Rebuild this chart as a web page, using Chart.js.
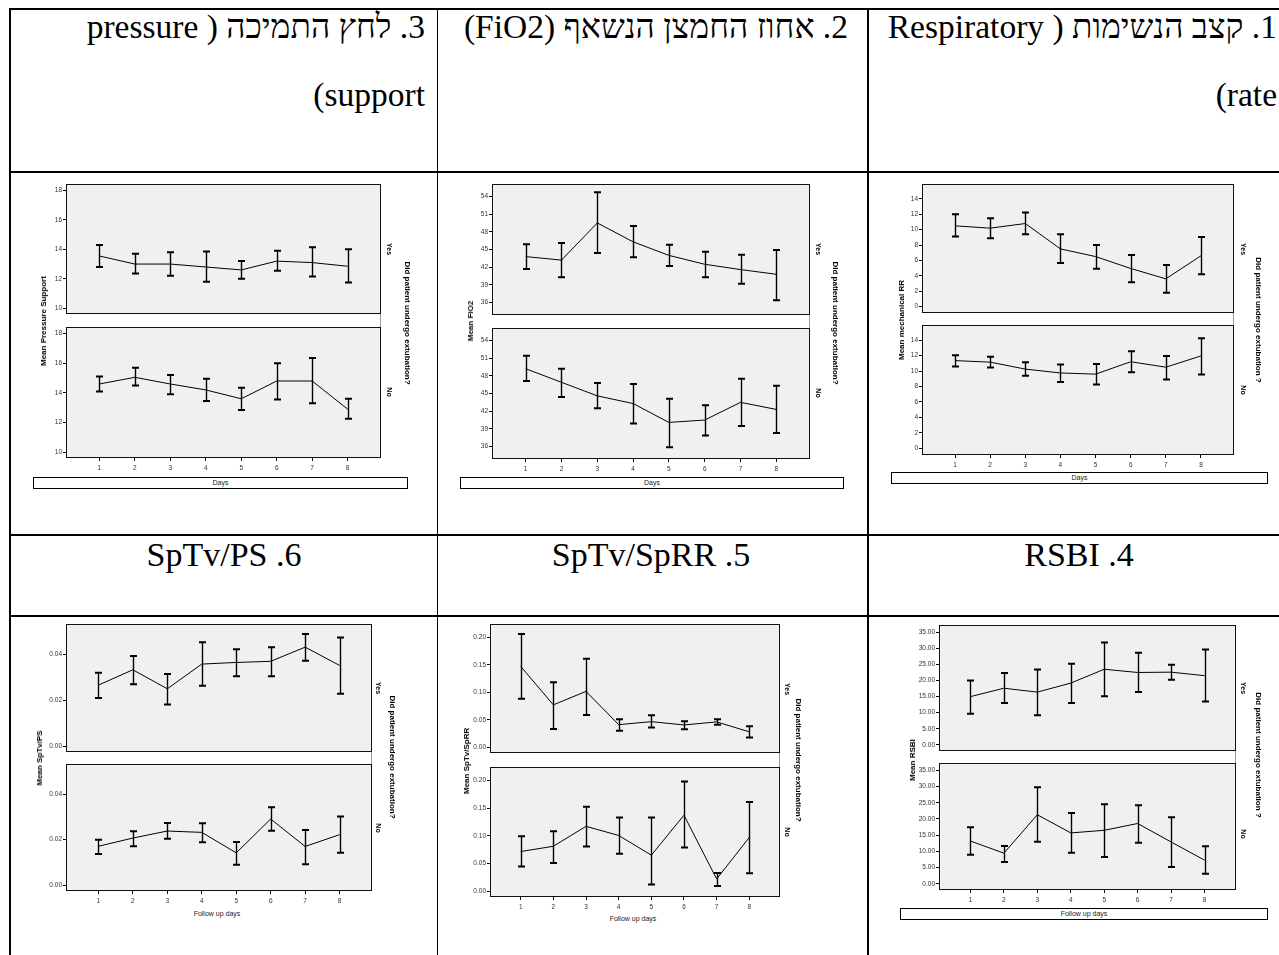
<!DOCTYPE html>
<html><head><meta charset="utf-8">
<script src="https://cdn.jsdelivr.net/npm/chart.js@4.4.0/dist/chart.umd.min.js"></script>
<style>
html,body{margin:0;padding:0;background:#fff;}
body{width:1279px;height:955px;overflow:hidden;position:relative;font-family:"Liberation Sans",Arial,sans-serif;}
.hl{position:absolute;background:#000;height:2px;}
.vl{position:absolute;background:#000;width:1.5px;}
.gl{position:absolute;background:#9a9a9a;width:1px;}
.hdr{position:absolute;font-family:"Liberation Serif","Times New Roman","DejaVu Serif",serif;color:#000;direction:rtl;white-space:nowrap;}
.panel{position:absolute;}
.lbl{position:absolute;white-space:nowrap;color:#000;}
.box{position:absolute;border:1px solid #000;background:#fff;box-sizing:border-box;text-align:center;font-size:7px;color:#222;}
</style>
</head><body>
<script>
// ---------- data ----------
const days = [1,2,3,4,5,6,7,8];
const dayLabels = ['1','2','3','4','5','6','7','8'];

// 3. Pressure support
const psTickLabels = ['10','12','14','16','18'];
const psYesMean = [13.55,13.0,13.0,12.8,12.6,13.2,13.1,12.85];
const psYesLow  = [12.8,12.35,12.2,11.8,12.0,12.55,12.15,11.75];
const psYesHigh = [14.3,13.7,13.8,13.85,13.2,13.9,14.15,14.0];
const psNoMean  = [14.6,15.05,14.6,14.2,13.6,14.8,14.8,12.9];
const psNoLow   = [14.1,14.5,13.9,13.45,12.85,13.55,13.3,12.25];
const psNoHigh  = [15.1,15.7,15.2,14.95,14.35,16.0,16.35,13.6];

// 2. FiO2
const fiTickLabels = ['36','39','42','45','48','51','54'];
const fiYesMean = [43.8,43.2,49.5,46.3,44.0,42.5,41.6,40.8];
const fiYesLow  = [41.7,40.3,44.4,43.7,42.2,40.3,39.2,36.4];
const fiYesHigh = [45.9,46.1,54.7,49.0,45.8,44.6,44.1,44.9];
const fiNoMean  = [49.2,46.9,44.6,43.3,40.1,40.5,43.5,42.3];
const fiNoLow   = [47.1,44.4,42.5,39.9,35.9,37.9,39.5,38.3];
const fiNoHigh  = [51.4,49.2,46.8,46.6,44.1,43.0,47.5,46.3];

// 1. Respiratory rate
const rrTickLabels = ['0','2','4','6','8','10','12','14'];
const rrYesMean = [10.5,10.2,10.8,7.5,6.5,4.95,3.6,6.6];
const rrYesLow  = [9.1,8.9,9.4,5.65,4.9,3.15,1.8,4.2];
const rrYesHigh = [12.0,11.5,12.25,9.4,8.0,6.7,5.4,9.05];
const rrNoMean  = [11.35,11.15,10.25,9.75,9.6,11.2,10.5,11.95];
const rrNoLow   = [10.6,10.45,9.4,8.6,8.25,9.85,8.9,9.55];
const rrNoHigh  = [12.05,11.85,11.15,10.85,10.9,12.55,11.95,14.25];

// 6. SpTv/PS
const tpTickLabels = ['0.00','0.02','0.04'];
const tpYesMean = [0.0266,0.0333,0.0250,0.0358,0.0365,0.0370,0.0432,0.0352];
const tpYesLow  = [0.0210,0.0270,0.0181,0.0263,0.0305,0.0305,0.0372,0.0228];
const tpYesHigh = [0.0320,0.0393,0.0315,0.0453,0.0423,0.0432,0.0489,0.0474];
const tpNoMean  = [0.0171,0.0207,0.0238,0.0232,0.0142,0.0291,0.0170,0.0222];
const tpNoLow   = [0.0137,0.0171,0.0204,0.0189,0.0089,0.0239,0.0092,0.0142];
const tpNoHigh  = [0.0200,0.0237,0.0273,0.0272,0.0190,0.0343,0.0243,0.0302];

// 5. SpTv/SpRR
const trTickLabels = ['0.00','0.05','0.10','0.15','0.20'];
const trYesMean = [0.147,0.077,0.1015,0.041,0.0465,0.0405,0.046,0.028];
const trYesLow  = [0.088,0.033,0.0585,0.030,0.036,0.0325,0.041,0.0175];
const trYesHigh = [0.206,0.118,0.161,0.051,0.058,0.047,0.051,0.038];
const trNoMean  = [0.0715,0.081,0.117,0.1005,0.065,0.137,0.022,0.097];
const trNoLow   = [0.0445,0.051,0.0805,0.0675,0.012,0.079,0.0095,0.0325];
const trNoHigh  = [0.099,0.108,0.1525,0.133,0.133,0.198,0.033,0.161];

// 4. RSBI
const rsTickLabels = ['0.00','5.00','10.00','15.00','20.00','25.00','30.00','35.00'];
const rsYesMean = [15.0,17.6,16.4,19.2,23.5,22.5,22.6,21.5];
const rsYesLow  = [9.7,13.0,9.2,13.0,15.1,16.4,20.2,13.5];
const rsYesHigh = [20.0,22.3,23.4,25.2,31.8,28.6,24.9,29.6];
const rsNoMean  = [13.2,9.45,21.3,15.7,16.5,18.6,12.9,7.3];
const rsNoLow   = [9.0,6.75,13.0,9.55,8.3,12.7,5.2,3.1];
const rsNoHigh  = [17.45,11.7,29.8,21.8,24.5,24.2,20.5,11.6];

// ---------- helpers ----------
Chart.defaults.font.family = '"Liberation Sans", Arial, sans-serif';
Chart.defaults.animation = false;

const panelBg = {
  id:'panelBg',
  beforeDraw(c){const a=c.chartArea,ctx=c.ctx;ctx.save();ctx.fillStyle='#f0f0f0';ctx.fillRect(a.left,a.top,a.right-a.left,a.bottom-a.top);ctx.restore();},
  afterDraw(c){const a=c.chartArea,ctx=c.ctx;ctx.save();ctx.strokeStyle='#111';ctx.lineWidth=1;ctx.strokeRect(a.left+0.5,a.top+0.5,a.right-a.left-1,a.bottom-a.top-1);ctx.restore();}
};
const errBars = {
  id:'errBars',
  afterDatasetsDraw(c){
    const ds=c.data.datasets[0], xs=c.scales.x, ys=c.scales.y, ctx=c.ctx;
    ctx.save(); ctx.strokeStyle='#000';
    ds.lo.forEach((lo,i)=>{
      const x=Math.round(xs.getPixelForValue(days[i]))+0.5;
      const y1=ys.getPixelForValue(lo), y2=ys.getPixelForValue(ds.hi[i]);
      ctx.lineWidth=1.4; ctx.beginPath(); ctx.moveTo(x,y1); ctx.lineTo(x,y2); ctx.stroke();
      ctx.lineWidth=2; ctx.beginPath();
      ctx.moveTo(x-3.5,y1); ctx.lineTo(x+3.5,y1);
      ctx.moveTo(x-3.5,y2); ctx.lineTo(x+3.5,y2); ctx.stroke();
    });
    ctx.restore();
  }
};

function makePanel(p){
  const padL=36, xH=p.showX?15:0;
  const W=padL+p.w+1, H=1+p.h+(p.showX?xH:1);
  const wrap=document.createElement('div'); wrap.className='panel';
  wrap.style.left=(p.x-padL)+'px'; wrap.style.top=(p.y-1)+'px';
  wrap.style.width=W+'px'; wrap.style.height=H+'px';
  const cv=document.createElement('canvas'); cv.width=W; cv.height=H;
  cv.style.width=W+'px'; cv.style.height=H+'px';
  wrap.appendChild(cv); document.body.appendChild(wrap);
  const tickVals=p.ticks.map(Number);
  new Chart(cv,{
    type:'line',
    data:{datasets:[{data:days.map((d,i)=>({x:d,y:p.mean[i]})),borderColor:'#000',borderWidth:1,pointRadius:0,tension:0,fill:false,lo:p.lo,hi:p.hi}]},
    options:{
      responsive:false, devicePixelRatio:1, animation:false,
      layout:{padding:{left:0,right:1,top:1,bottom:p.showX?0:1}},
      plugins:{legend:{display:false},tooltip:{enabled:false}},
      scales:{
        x:{type:'linear',min:0.06,max:8.94,display:!!p.showX,
           afterBuildTicks:s=>{s.ticks=days.map(v=>({value:v}));},
           afterFit:s=>{s.height=xH;s.paddingLeft=0;s.paddingRight=0;},
           grid:{drawOnChartArea:false,drawTicks:true,tickLength:3,color:'#000'},
           border:{display:false},
           ticks:{autoSkip:false,maxRotation:0,padding:3,color:'#333',font:{size:6.5},callback:(v,i)=>dayLabels[i]}},
        y:{type:'linear',min:p.min,max:p.max,
           afterBuildTicks:s=>{s.ticks=tickVals.map(v=>({value:v}));},
           afterFit:s=>{s.width=padL;s.paddingTop=0;s.paddingBottom=0;},
           grid:{drawOnChartArea:false,drawTicks:true,tickLength:3,color:'#000'},
           border:{display:false},
           ticks:{padding:1,color:'#333',font:{size:6.5},callback:(v,i)=>p.ticks[i]}}
      }
    },
    plugins:[panelBg,errBars]
  });
}

function addLbl(txt,cx,cy,rot,size,bold){
  const d=document.createElement('div'); d.className='lbl'; d.textContent=txt;
  d.style.left=cx+'px'; d.style.top=cy+'px'; d.style.fontSize=size+'px';
  d.style.fontWeight=bold?'bold':'normal'; d.style.lineHeight='1';
  d.style.transform='translate(-50%,-50%) rotate('+rot+'deg)';
  if(!bold) d.style.color='#222';
  document.body.appendChild(d);
}
function addBox(txt,x,y,w,h){
  const d=document.createElement('div'); d.className='box'; d.textContent=txt;
  d.style.left=x+'px'; d.style.top=y+'px'; d.style.width=w+'px'; d.style.height=h+'px';
  d.style.lineHeight=(h-2)+'px'; document.body.appendChild(d);
}
function hLine(x,y,w){const d=document.createElement('div');d.className='hl';d.style.left=x+'px';d.style.top=y+'px';d.style.width=w+'px';document.body.appendChild(d);}
function vLine(x,y,h,cls){const d=document.createElement('div');d.className=cls||'vl';d.style.left=x+'px';d.style.top=y+'px';d.style.height=h+'px';document.body.appendChild(d);}
function hdr(txt,right,baseline,size,align,width){
  const d=document.createElement('div'); d.className='hdr'; d.textContent=txt;
  d.style.fontSize=size+'px'; d.style.lineHeight=(size*1.25)+'px';
  const lh=size*1.25, top=baseline-((lh-1.107*size)/2+0.891*size);
  d.style.top=top+'px';
  if(align==='center'){d.style.left=(right-width/2)+'px';d.style.width=width+'px';d.style.textAlign='center';}
  else{d.style.left=(right-width)+'px';d.style.width=width+'px';d.style.textAlign='right';}
  document.body.appendChild(d);
}

// ---------- table ----------
hLine(9,8,1275); hLine(9,171,1275); hLine(9,534,1275); hLine(9,615,1275);
vLine(9,8,947); vLine(436.5,8,947); vLine(867,8,947);

const HS=33.5;
hdr('3. לחץ התמיכה ( pressure',425,38,HS,'right',420);
hdr('support)',425,106,HS,'right',420);
hdr('2. אחוז החמצן הנשאף (FiO2)',848,38,HS,'right',425);
hdr('1. קצב הנשימות ( Respiratory',1277,38,HS,'right',425);
hdr('rate)',1277,106,HS,'right',425);
const HS2=34;
hdr('6. SpTv/PS',224,567,HS2,'center',400);
hdr('5. SpTv/SpRR',651,567,HS2,'center',400);
hdr('4. RSBI',1079,567,HS2,'center',400);

// ---------- charts ----------
// Pressure support (top-left)
makePanel({x:66,y:184,w:315,h:130,min:9.6,max:18.45,ticks:psTickLabels,mean:psYesMean,lo:psYesLow,hi:psYesHigh});
makePanel({x:66,y:327,w:315,h:131,min:9.6,max:18.45,ticks:psTickLabels,mean:psNoMean,lo:psNoLow,hi:psNoHigh,showX:true});
vLine(380,314,13,'gl');
addLbl('Mean Pressure Support',44,321,-90,8,true);
addLbl('Yes',389,249,90,7,true); addLbl('No',389,392,90,7,true);
addLbl('Did patient undergo extubation?',407,323,90,8,true);
addBox('Days',33,477,375,12);

// FiO2 (top-middle)
makePanel({x:492,y:184,w:318,h:131,min:33.9,max:56.1,ticks:fiTickLabels,mean:fiYesMean,lo:fiYesLow,hi:fiYesHigh});
makePanel({x:492,y:328,w:318,h:131,min:33.9,max:56.1,ticks:fiTickLabels,mean:fiNoMean,lo:fiNoLow,hi:fiNoHigh,showX:true});
vLine(809,315,13,'gl');
addLbl('Mean FiO2',471,321,-90,8,true);
addLbl('Yes',818,249,90,7,true); addLbl('No',818,393,90,7,true);
addLbl('Did patient undergo extubation?',835,323,90,8,true);
addBox('Days',460,477,384,12);

// Respiratory rate (top-right)
makePanel({x:922,y:184,w:312,h:129,min:-0.85,max:15.95,ticks:rrTickLabels,mean:rrYesMean,lo:rrYesLow,hi:rrYesHigh});
makePanel({x:922,y:325,w:312,h:130,min:-0.85,max:15.95,ticks:rrTickLabels,mean:rrNoMean,lo:rrNoLow,hi:rrNoHigh,showX:true});
vLine(1233,313,12,'gl');
addLbl('Mean mechanical RR',902,320,-90,8,true);
addLbl('Yes',1243,249,90,7,true); addLbl('No',1243,390,90,7,true);
addLbl('Did patient undergo extubation ?',1258,320,90,8,true);
addBox('Days',891,472,377,12);

// SpTv/PS (bottom-left)
makePanel({x:66,y:624,w:306,h:128,min:-0.0026,max:0.0533,ticks:tpTickLabels,mean:tpYesMean,lo:tpYesLow,hi:tpYesHigh});
makePanel({x:66,y:764,w:306,h:127,min:-0.0026,max:0.0533,ticks:tpTickLabels,mean:tpNoMean,lo:tpNoLow,hi:tpNoHigh,showX:true});
vLine(371,752,12,'gl');
addLbl('Mean SpTv/PS',40,758,-90,8,true);
addLbl('Yes',378,688,90,7,true); addLbl('No',378,828,90,7,true);
addLbl('Did patient undergo extubation?',392,757,90,8,true);
addLbl('Follow up days',217,913,0,7,false);

// SpTv/SpRR (bottom-middle)
makePanel({x:490,y:624,w:290,h:129,min:-0.0105,max:0.224,ticks:trTickLabels,mean:trYesMean,lo:trYesLow,hi:trYesHigh});
makePanel({x:490,y:767,w:290,h:130,min:-0.0105,max:0.224,ticks:trTickLabels,mean:trNoMean,lo:trNoLow,hi:trNoHigh,showX:true});
vLine(779,753,14,'gl');
addLbl('Mean SpTv/SpRR',467,761,-90,8,true);
addLbl('Yes',787,689,90,7,true); addLbl('No',787,832,90,7,true);
addLbl('Did patient undergo extubation?',798,760,90,8,true);
addLbl('Follow up days',633,918,0,7,false);

// RSBI (bottom-right)
makePanel({x:939,y:625,w:297,h:126,min:-1.9,max:37.25,ticks:rsTickLabels,mean:rsYesMean,lo:rsYesLow,hi:rsYesHigh});
makePanel({x:939,y:763,w:297,h:127,min:-1.9,max:37.25,ticks:rsTickLabels,mean:rsNoMean,lo:rsNoLow,hi:rsNoHigh,showX:true});
vLine(1235,751,12,'gl');
addLbl('Mean RSBI',913,760,-90,8,true);
addLbl('Yes',1243,688,90,7,true); addLbl('No',1243,834,90,7,true);
addLbl('Did patient undergo extubation ?',1258,755,90,8,true);
addBox('Follow up days',900,908,368,12);
</script>
</body></html>
